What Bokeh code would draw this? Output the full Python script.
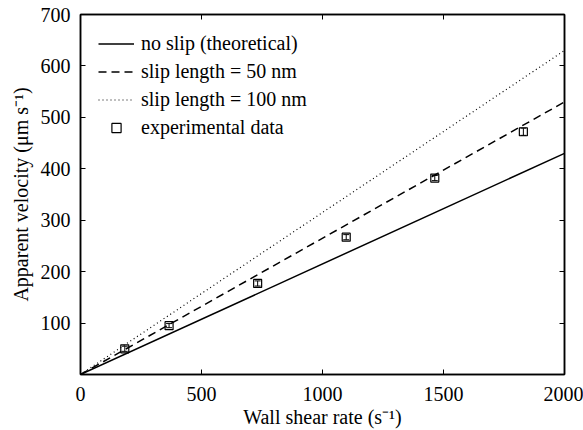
from bokeh.plotting import figure
from bokeh.models import LinearAxis, FixedTicker, Range1d, Legend, LegendItem, Whisker, ColumnDataSource
from bokeh.embed import file_html
from bokeh.resources import INLINE

# data
shear = [0, 2000]
no_slip = [0, 430]
slip50 = [0, 530]
slip100 = [0, 630]
exp_x = [183, 366, 732, 1098, 1464, 1830]
exp_y = [50, 95, 177, 267, 382, 472]
exp_err = [5, 4, 5, 5, 5, 7]
x_ticks = [0, 500, 1000, 1500, 2000]
y_ticks = [100, 200, 300, 400, 500, 600, 700]

FONT = "Times New Roman"
FS = "20px"

p = figure(width=583, height=430, output_backend="svg", toolbar_location=None,
           x_range=Range1d(0, 2000), y_range=Range1d(0, 700),
           min_border_left=80, min_border_right=19, min_border_top=14, min_border_bottom=56)
p.background_fill_color = "white"
p.border_fill_color = "white"
p.grid.visible = False
p.outline_line_color = "black"
p.outline_line_width = 1.5

for ax in [p.xaxis[0], p.yaxis[0]]:
    ax.major_tick_in = 5
    ax.major_tick_out = 0
    ax.minor_tick_in = 0
    ax.minor_tick_out = 0
    ax.axis_line_color = "black"
    ax.axis_line_width = 1.5
    ax.major_label_text_font = FONT
    ax.major_label_text_font_size = FS
    ax.major_label_text_color = "black"
    ax.axis_label_text_font = FONT
    ax.axis_label_text_font_size = FS
    ax.axis_label_text_font_style = "normal"
    ax.axis_label_text_color = "black"

p.xaxis[0].ticker = FixedTicker(ticks=x_ticks)
p.yaxis[0].ticker = FixedTicker(ticks=y_ticks)
p.xaxis[0].axis_label = "Wall shear rate (s⁻¹)"
p.yaxis[0].axis_label = "Apparent velocity (μm s⁻¹)"
p.xaxis[0].major_label_standoff = 12
p.yaxis[0].major_label_standoff = 10
p.xaxis[0].axis_label_standoff = 2
p.yaxis[0].axis_label_standoff = 6

top = LinearAxis(ticker=FixedTicker(ticks=x_ticks),
                 major_label_overrides={t: "" for t in x_ticks},
                 major_tick_in=5, major_tick_out=0, minor_tick_in=0, minor_tick_out=0,
                 axis_line_color="black", axis_line_width=1.5, major_label_standoff=0)
right = LinearAxis(ticker=FixedTicker(ticks=y_ticks),
                   major_label_overrides={t: "" for t in y_ticks},
                   major_tick_in=5, major_tick_out=0, minor_tick_in=0, minor_tick_out=0,
                   axis_line_color="black", axis_line_width=1.5, major_label_standoff=0)
p.add_layout(top, "above")
p.add_layout(right, "right")

r1 = p.line(shear, no_slip, line_color="black", line_width=1.5)
r2 = p.line(shear, slip50, line_color="black", line_width=1.5, line_dash="8 5")
r3 = p.line(shear, slip100, line_color="black", line_width=1.2, line_dash="1 3")

src = ColumnDataSource(dict(x=exp_x, y=exp_y,
                            lo=[y - e for y, e in zip(exp_y, exp_err)],
                            hi=[y + e for y, e in zip(exp_y, exp_err)]))
w = Whisker(source=src, base="x", lower="lo", upper="hi", line_color="black", line_width=1)
w.upper_head.size = 6
w.lower_head.size = 6
w.upper_head.line_color = "black"
w.lower_head.line_color = "black"
p.add_layout(w)
r4 = p.scatter("x", "y", source=src, marker="square", size=8, fill_color=None,
               line_color="black", line_width=1.2)

legend = Legend(items=[LegendItem(label="no slip (theoretical)", renderers=[r1]),
                       LegendItem(label="slip length = 50 nm", renderers=[r2]),
                       LegendItem(label="slip length = 100 nm", renderers=[r3]),
                       LegendItem(label="experimental data", renderers=[r4])],
                location="top_left", border_line_color=None, background_fill_alpha=0,
                label_text_font=FONT, label_text_font_size=FS, label_text_color="black",
                glyph_width=36, glyph_height=23, label_height=23, spacing=5,
                label_standoff=7, margin=18, padding=10)
p.add_layout(legend)

open("out.html", "w").write(file_html(p, INLINE))
